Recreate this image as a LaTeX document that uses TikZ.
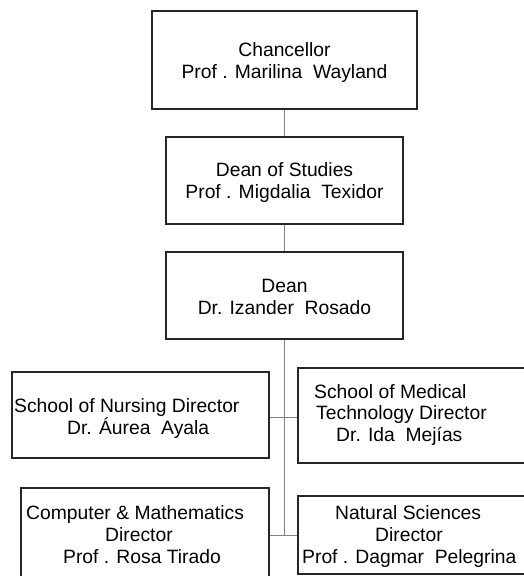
\documentclass[tikz,border=0pt]{standalone}
\usepackage{fontspec}
\setmainfont{Liberation Sans}
\begin{document}
\begin{tikzpicture}[x=1pt,y=-1pt,
  box/.style={draw=black!85, line width=1.1pt, inner sep=0pt, rectangle},
  txt/.style={inner sep=0pt, font=\fontsize{19.3}{21.8}\selectfont},
  link/.style={draw=black!50, line width=0.9pt}]
\useasboundingbox (0,0) rectangle (524,576);

% boxes
\node[box, minimum width=265pt, minimum height=98pt] (chan) at (284.5,60) {};
\node[box, minimum width=237pt, minimum height=87pt] (dos) at (284.5,180.5) {};
\node[box, minimum width=237pt, minimum height=87pt] (dean) at (284.5,295.5) {};
\node[box, minimum width=257pt, minimum height=86pt] (nurs) at (140.5,415) {};
\node[box, minimum width=230pt, minimum height=95pt] (med) at (413,415.5) {};
\node[box, minimum width=248pt, minimum height=92pt] (comp) at (145,534) {};
\node[box, minimum width=230pt, minimum height=78pt] (nat) at (413,535) {};

% labels (anchored at the baseline of their last line)
\node[txt, align=center, anchor=base] (chanT) at (284.5,78.3)
  {Chancellor\\Prof . Marilina\ \ Wayland};
\node[txt, align=center, anchor=base] (dosT) at (284.5,198.3)
  {Dean of Studies\\Prof . Migdalia\ \ Texidor};
\node[txt, align=center, anchor=base] (deanT) at (284.5,314.3)
  {Dean\\Dr. Izander\ \ Rosado};
\node[txt, align=left, anchor=base west] (nursT) at (14,434)
  {School of Nursing Director\\\hspace*{53pt}Dr. \'Aurea\ \ Ayala};
\node[txt, align=left, anchor=base west] (medT) at (314,441.7)
  {School of Medical\\\hspace*{2pt}Technology Director\\\hspace*{22pt}Dr. Ida\ \ Mej\'{\i}as};
\node[txt, align=left, anchor=base west] (compT) at (26,563.3)
  {Computer \& Mathematics\\\hspace*{79pt}Director\\\hspace*{37pt}Prof . Rosa Tirado};
\node[txt, align=left, anchor=base west] (natT) at (302,563.3)
  {\hspace*{33pt}Natural Sciences\\\hspace*{73pt}Director\\Prof . Dagmar\ \ Pelegrina};

% connectors
\coordinate (j1) at (284.5,417);
\coordinate (j2) at (284.5,535);
\draw[link] (chan) -- (dos);
\draw[link] (dos) -- (dean);
\draw[link] (dean.south) -- (j2);
\draw[link] (nurs.east |- j1) -- (med.west |- j1);
\draw[link] (comp.east |- j2) -- (nat.west |- j2);
\end{tikzpicture}
\end{document}
